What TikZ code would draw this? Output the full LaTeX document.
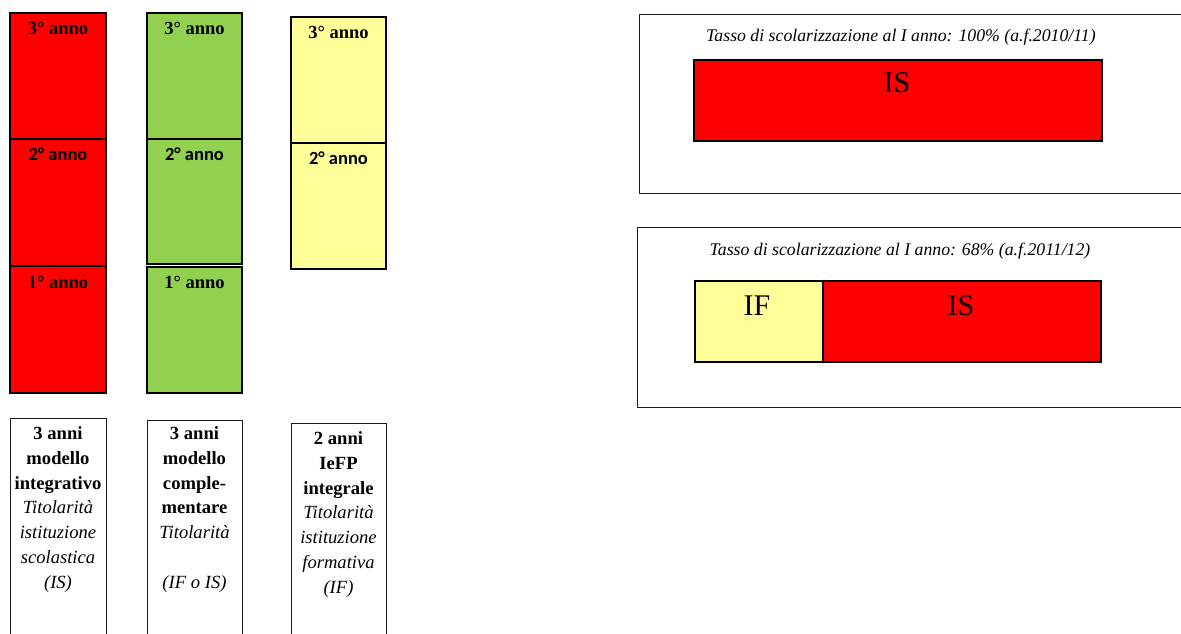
\documentclass[tikz,border=0pt]{standalone}
\usepackage{fontspec}
\setmainfont{Liberation Serif}
\newfontfamily\calib{Carlito}
\definecolor{cred}{HTML}{FF0000}
\definecolor{cgreen}{HTML}{92D050}
\definecolor{cyellow}{HTML}{FFFF99}
\definecolor{frame}{HTML}{1A1A1A}
\tikzset{
  cell/.style={draw=black, line width=1.5pt, inner sep=0pt},
  yl/.style={anchor=base, font=\fontsize{18.5}{20}\selectfont\bfseries, inner sep=0pt},
  yc/.style={anchor=base, font=\fontsize{18.5}{20}\selectfont\calib\bfseries, inner sep=0pt},
  desc/.style={anchor=base, align=center, inner sep=0pt, font=\fontsize{18.6}{24.7}\selectfont},
  ttl/.style={anchor=base, inner sep=0pt, font=\fontsize{17.75}{20}\selectfont\itshape},
  big/.style={anchor=base, inner sep=0pt, font=\fontsize{30}{32}\selectfont},
  wbox/.style={draw=frame, line width=1pt},
}
\begin{document}
\begin{tikzpicture}[x=1pt,y=-1pt]
\useasboundingbox (0,0) rectangle (1181,633);
% red column
\node[cell, fill=cred, minimum width=96, minimum height=126] (r3) at (58,76) {};
\node[cell, fill=cred, minimum width=96, minimum height=127] (r2) at (58,202.5) {};
\node[cell, fill=cred, minimum width=96, minimum height=127] (r1) at (58,329.5) {};
\node[yl] (r3t) at (58,34) {3° anno};
\node[yc] (r2t) at (58,160) {2° anno};
\node[yl] (r1t) at (58,288) {1° anno};
% green column
\node[cell, fill=cgreen, minimum width=95, minimum height=126] (g3) at (194.5,76) {};
\node[cell, fill=cgreen, minimum width=95, minimum height=125] (g2) at (194.5,201.5) {};
\node[cell, fill=cgreen, minimum width=95, minimum height=126] (g1) at (194.5,330) {};
\node[yl] (g3t) at (194.5,34) {3° anno};
\node[yc] (g2t) at (194.5,160) {2° anno};
\node[yl] (g1t) at (194.5,288) {1° anno};
% yellow column
\node[cell, line width=1.2pt, fill=cyellow, minimum width=95, minimum height=126] (y3) at (338.5,80) {};
\node[cell, line width=1.2pt, fill=cyellow, minimum width=95, minimum height=126] (y2) at (338.5,206) {};
\node[yl] (y3t) at (338.5,38) {3° anno};
\node[yc] (y2t) at (338.5,164) {2° anno};
% description boxes
\draw[wbox] (10,645) |- (106,418) -- (106,645);
\draw[wbox] (147,645) |- (242,420) -- (242,645);
\draw[wbox] (291,645) |- (386,423) -- (386,645);
\node[desc] (d1) at (58,588) {\textbf{3 anni}\\\textbf{modello}\\\textbf{integrativo}\\\textit{Titolarità}\\\textit{istituzione}\\\textit{scolastica}\\\textit{(IS)}};
\node[desc] (d2) at (194.5,588) {\textbf{3 anni}\\\textbf{modello}\\\textbf{comple-}\\\textbf{mentare}\\\textit{Titolarità}\\[24.7pt]\textit{(IF o IS)}};
\node[desc] (d3) at (338.5,593) {\textbf{2 anni}\\\textbf{IeFP}\\\textbf{integrale}\\\textit{Titolarità}\\\textit{istituzione}\\\textit{formativa}\\\textit{(IF)}};
% right panels
\draw[wbox] (1190,14) -- (639,14) -- (639,193) -- (1190,193);
\node[ttl] (t1) at (901,41.5) {Tasso di scolarizzazione al I anno: 100\% (a.f.2010/11)};
\node[cell, line width=1.5pt, fill=cred, minimum width=408, minimum height=81] (b1) at (898,100.5) {};
\node[big] (b1t) at (897,92) {IS};
\draw[wbox] (1190,227) -- (637,227) -- (637,407) -- (1190,407);
\node[ttl] (t2) at (900,255) {Tasso di scolarizzazione al I anno: 68\% (a.f.2011/12)};
\node[cell, line width=1.2pt, fill=cyellow, minimum width=128, minimum height=81] (b2a) at (759,321.5) {};
\node[cell, line width=1.2pt, fill=cred, minimum width=278, minimum height=81] (b2b) at (962,321.5) {};
\node[big] (b2at) at (757,315) {IF};
\node[big] (b2bt) at (961,315) {IS};
\end{tikzpicture}
\end{document}
